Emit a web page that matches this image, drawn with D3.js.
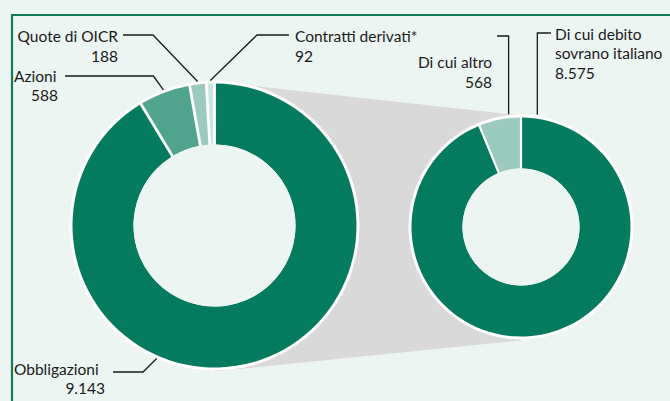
<!DOCTYPE html>
<html><head><meta charset="utf-8">
<script src="https://cdn.jsdelivr.net/npm/d3@7"></script>
<style>
html,body{margin:0;padding:0;background:#edf5f3;}
svg{display:block;}
text{font-family:Lato, "Noto Sans", sans-serif;font-size:15.5px;fill:#1a1a1a;}
</style></head>
<body>
<svg id="chart" width="670" height="401"></svg>
<script>
// ---- data ----
const categories = ["Obbligazioni", "Azioni", "Quote di OICR", "Contratti derivati*"];
const values = [9143, 588, 188, 92];
const subCategories = ["Di cui debito sovrano italiano", "Di cui altro"];
const subValues = [8575, 568];

// ---- styling ----
const bg = "#edf5f3";
const mainColors = ["#047a5e", "#50a48e", "#9bcbbf", "#cbe4dd"];
const subColors = ["#047a5e", "#9bcbbf"];
const itFmt = d3.formatLocale({decimal: ",", thousands: ".", grouping: [3], currency: ["€", ""]}).format(",d");

const svg = d3.select("#chart");
svg.append("rect").attr("width", 670).attr("height", 401).attr("fill", bg);

// frame
svg.append("path").attr("d", "M12,401 V15 H670").attr("fill", "none")
  .attr("stroke", "#157a5e").attr("stroke-width", 2.2);

const L = {cx: 214.5, cy: 225.5, r: 142, ir: 81};
const R = {cx: 521, cy: 227, r: 109.5, ir: 58.5};

const pie = d3.pie().sort(null).value(d => d);
const mainArcs = pie(values);
const subArcs = pie(subValues);

// connector polygon
const g0 = svg.append("g");
g0.append("path")
  .attr("d", d3.line()([
    [L.cx, L.cy - L.r - 2], [R.cx, R.cy - R.r - 2],
    [R.cx, R.cy + R.r + 4], [L.cx, L.cy + L.r + 4]
  ]) + "Z")
  .attr("fill", "#d9d9d9");

function donut(cfg, arcs, colors) {
  const g = svg.append("g").attr("transform", `translate(${cfg.cx},${cfg.cy})`);
  g.append("circle").attr("r", cfg.r + 3).attr("fill", "#ffffff");
  const arc = d3.arc().innerRadius(cfg.ir).outerRadius(cfg.r).padAngle(0.022).padRadius(cfg.r * 0.9);
  g.selectAll("path.slice").data(arcs).join("path").attr("class", "slice")
    .attr("d", arc).attr("fill", (d, i) => colors[i]);
  g.append("circle").attr("r", cfg.ir).attr("fill", bg);
}
donut(L, mainArcs, mainColors);
donut(R, subArcs, subColors);

function pt(cfg, ang, rr) {
  return [cfg.cx + rr * Math.sin(ang), cfg.cy - rr * Math.cos(ang)];
}
const mid = d => (d.startAngle + d.endAngle) / 2;

const lines = svg.append("g").attr("fill", "none").attr("stroke", "#1a1a1a").attr("stroke-width", 1.3);
const labels = svg.append("g");

function label(x, y, lines_, anchor) {
  const t = labels.append("text").attr("x", x).attr("y", y).attr("text-anchor", anchor);
  lines_.forEach((s, i) => t.append("tspan").attr("x", x).attr("dy", i === 0 ? 0 : 19.5).text(s));
}

// Obbligazioni
{
  const d = mainArcs[0];
  const a = d.startAngle + (d.endAngle - d.startAngle) * 0.619;
  const p = pt(L, a, L.r + 3);
  lines.append("path").attr("d", d3.line()([[113, 372], [143, 372], p]));
  label(14, 375, [categories[0]], "start");
  label(105, 394, [itFmt(values[0])], "end");
}
// Azioni
{
  const p = pt(L, mid(mainArcs[1]), L.r + 3);
  lines.append("path").attr("d", d3.line()([[65, 76], [p[0] - 10, 76], p]));
  label(14, 82, [categories[1]], "start");
  label(58, 101, [itFmt(values[1])], "end");
}
// Quote di OICR
{
  const p = pt(L, mid(mainArcs[2]), L.r + 3);
  lines.append("path").attr("d", d3.line()([[123, 35], [153, 35], p]));
  label(118, 42, [categories[2]], "end");
  label(118, 61.5, [itFmt(values[2])], "end");
}
// Contratti derivati
{
  const p = pt(L, mid(mainArcs[3]), L.r + 3);
  lines.append("path").attr("d", d3.line()([[289, 35], [257, 35], p]));
  label(295, 42, [categories[3]], "start");
  label(295, 61.5, [itFmt(values[3])], "start");
}
// Di cui altro
{
  const d = subArcs[1];
  const a = d.startAngle + (d.endAngle - d.startAngle) * 0.72;
  const p = pt(R, a, R.r + 4);
  lines.append("path").attr("d", d3.line()([[497, 36], [p[0], 36], [p[0], p[1]]]));
  label(492, 68, [subCategories[1]], "end");
  label(492, 88, [itFmt(subValues[1])], "end");
}
// Di cui debito sovrano italiano
{
  const d = subArcs[0];
  const a = d.startAngle + (d.endAngle - d.startAngle) * 0.0245;
  const p = pt(R, a, R.r + 4);
  lines.append("path").attr("d", d3.line()([[551, 33], [p[0], 33], [p[0], p[1]]]));
  label(555, 39.5, ["Di cui debito", "sovrano italiano", itFmt(subValues[0])], "start");
}
</script>
</body></html>
